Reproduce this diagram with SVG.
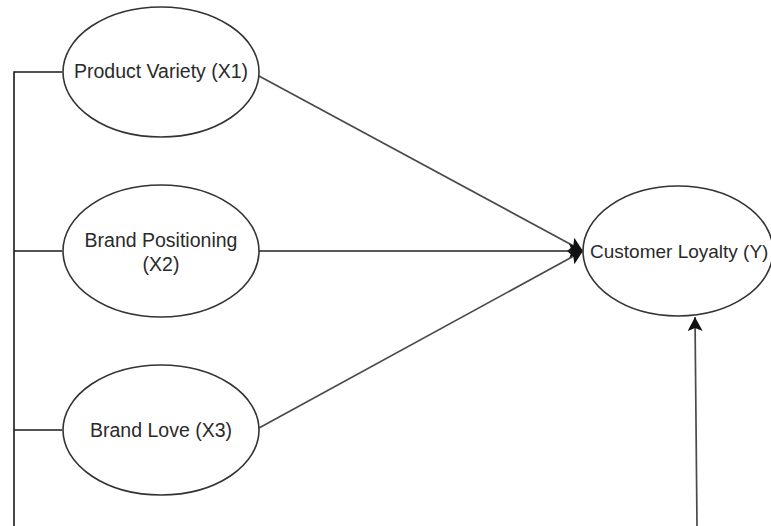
<svg xmlns="http://www.w3.org/2000/svg" width="771" height="526" viewBox="0 0 771 526">
  <style>
    .node ellipse { fill: #ffffff; stroke: #333333; stroke-width: 1.6; }
    .node text { font-family: "Liberation Sans", Arial, sans-serif; font-size: 19.5px; fill: #2a2a2a; text-anchor: middle; }
    .edge { fill: none; stroke: #4a4a4a; stroke-width: 1.7; }
    .bracket { fill: none; stroke: #1a1a1a; stroke-width: 1.6; }
  </style>
  <defs>
    <marker id="arrow" markerUnits="userSpaceOnUse" markerWidth="15" markerHeight="15" refX="14" refY="7.5" orient="auto">
      <path d="M0,0 L14,7.5 L0,15 L3,7.5 z" fill="#111111"/>
    </marker>
  </defs>
  <rect width="771" height="526" fill="#ffffff"/>
  <g id="connectors">
    <polyline class="bracket" points="62,72 14,72 14,526"/>
    <line class="bracket" x1="14" y1="251" x2="62" y2="251"/>
    <line class="bracket" x1="14" y1="430" x2="62" y2="430"/>
    <line class="edge" x1="259" y1="76" x2="583" y2="251" marker-end="url(#arrow)"/>
    <line class="edge" x1="259" y1="251" x2="583" y2="251" marker-end="url(#arrow)" style="stroke:#222222"/>
    <line class="edge" x1="259" y1="428" x2="583" y2="251" marker-end="url(#arrow)"/>
    <line class="edge" x1="697" y1="526" x2="695" y2="317" marker-end="url(#arrow)"/>
  </g>
  <g id="x1" class="node">
    <ellipse cx="161" cy="72" rx="98" ry="65"/>
    <text x="161" y="78">Product Variety (X1)</text>
  </g>
  <g id="x2" class="node">
    <ellipse cx="161" cy="251" rx="98" ry="66"/>
    <text x="161" y="247">Brand Positioning</text>
    <text x="161" y="271">(X2)</text>
  </g>
  <g id="x3" class="node">
    <ellipse cx="161" cy="430" rx="98" ry="65"/>
    <text x="161" y="437">Brand Love (X3)</text>
  </g>
  <g id="y" class="node">
    <ellipse cx="678" cy="251" rx="95" ry="65"/>
    <text x="590" y="258" style="text-anchor:start;font-size:19px">Customer Loyalty (Y)</text>
  </g>
</svg>
